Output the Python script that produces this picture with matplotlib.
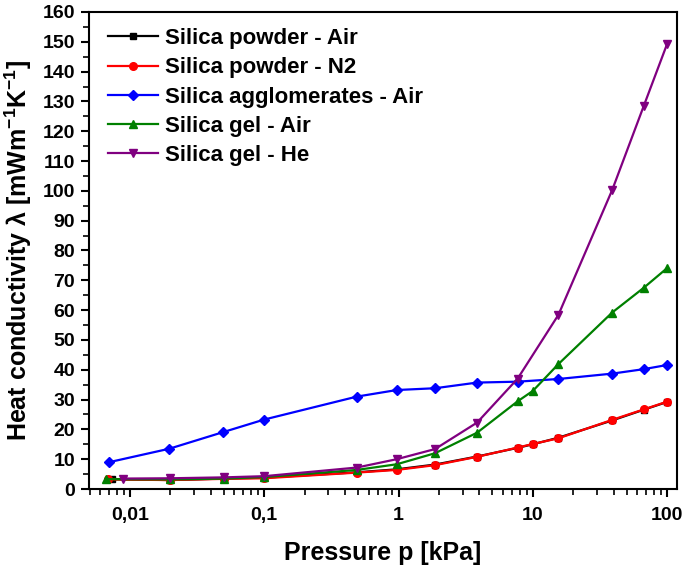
# waermeleitfaehigkeit vs druck - silica proben

import matplotlib
matplotlib.use('Agg')
import matplotlib.pyplot as plt
from matplotlib.ticker import FixedLocator, FuncFormatter, LogLocator, MultipleLocator

plt.rcParams['font.family'] = ['Liberation Sans', 'DejaVu Sans']
plt.rcParams['font.weight'] = 'bold'
plt.rcParams['mathtext.fontset'] = 'custom'
plt.rcParams['mathtext.rm'] = 'Liberation Sans:bold'
plt.rcParams['mathtext.bf'] = 'Liberation Sans:bold'
plt.rcParams['mathtext.default'] = 'rm'

# dados (p em kPa, lambda em mW/mK)
p_pow_air = [0.0073, 0.02, 0.05, 0.1, 0.49, 0.97, 1.87, 3.85, 7.7, 10, 15.5, 39, 67, 100]
k_pow_air = [3.3, 3.0, 3.5, 3.8, 5.6, 6.6, 8.2, 10.9, 13.8, 15.0, 17.2, 23.0, 26.6, 29.2]

p_pow_n2 = [0.0069, 0.02, 0.05, 0.1, 0.49, 0.97, 1.87, 3.85, 7.7, 10, 15.5, 39, 67, 100]
k_pow_n2 = [3.2, 3.0, 3.4, 3.6, 5.5, 6.4, 8.0, 10.8, 13.9, 15.1, 17.0, 23.2, 26.7, 29.3]

p_aggl = [0.007, 0.0196, 0.0496, 0.1, 0.49, 0.97, 1.87, 3.85, 7.7, 15.5, 39, 67, 100]
k_aggl = [9.0, 13.5, 19.1, 23.3, 31.0, 33.2, 33.8, 35.7, 36.0, 36.9, 38.7, 40.2, 41.6]

p_gel_air = [0.0066, 0.02, 0.05, 0.1, 0.49, 0.97, 1.87, 3.85, 7.7, 10, 15.5, 39, 67, 100]
k_gel_air = [3.3, 3.2, 3.5, 4.0, 6.4, 8.3, 12.0, 18.9, 29.4, 32.9, 41.9, 59.2, 67.5, 74.1]

p_gel_he = [0.0089, 0.02, 0.05, 0.1, 0.49, 0.97, 1.87, 3.85, 7.7, 15.5, 39, 67, 100]
k_gel_he = [3.5, 3.6, 3.9, 4.3, 7.2, 10.0, 13.4, 22.3, 37.0, 58.4, 100.3, 128.5, 149.3]

xticks = [0.01, 0.1, 1, 10, 100]

fig = plt.figure(figsize=(6.85, 5.71), dpi=100)
ax = fig.add_axes([0.130, 0.1436, 0.858, 0.8354])

ax.plot(p_pow_air, k_pow_air, color='black', marker='s', ms=5, lw=1.6, label='Silica powder - Air')
ax.plot(p_pow_n2, k_pow_n2, color='#ff0000', marker='o', ms=5.5, lw=1.6, label='Silica powder - N2')
ax.plot(p_aggl, k_aggl, color='#0000ff', marker='D', ms=5, lw=1.6, label='Silica agglomerates - Air')
ax.plot(p_gel_air, k_gel_air, color='#008000', marker='^', ms=6, lw=1.6, label='Silica gel - Air')
ax.plot(p_gel_he, k_gel_he, color='#800080', marker='v', ms=6, lw=1.6, label='Silica gel - He')

ax.set_xscale('log')
ax.set_xlim(0.00496, 118)
ax.set_ylim(0, 160)

ax.xaxis.set_major_locator(FixedLocator(xticks))
ax.xaxis.set_major_formatter(FuncFormatter(lambda v, pos: ('%g' % v).replace('.', ',')))
ax.xaxis.set_minor_locator(LogLocator(base=10, subs=range(2, 10), numticks=20))
ax.yaxis.set_major_locator(MultipleLocator(10))
ax.yaxis.set_minor_locator(MultipleLocator(5))

ax.tick_params(which='major', direction='out', length=6, width=1.5, labelsize=14, pad=4)
ax.tick_params(which='minor', direction='out', length=4, width=1.2)
ax.tick_params(axis='x', which='major', pad=7)
for s in ax.spines.values():
    s.set_linewidth(1.5)

ax.set_xlabel('Pressure p [kPa]', fontsize=18, fontweight='bold', labelpad=12)
ax.set_ylabel(r'Heat conductivity λ [mWm$^{-1}$K$^{-1}$]', fontsize=18, fontweight='bold', labelpad=6)

leg = ax.legend(loc='upper left', bbox_to_anchor=(0.032, 0.966), frameon=False,
                fontsize=16, handlelength=2.25, handletextpad=0.3, labelspacing=0.37,
                borderaxespad=0, borderpad=0)
for t in leg.get_texts():
    t.set_fontweight('bold')

fig.savefig('out.png', dpi=100)
